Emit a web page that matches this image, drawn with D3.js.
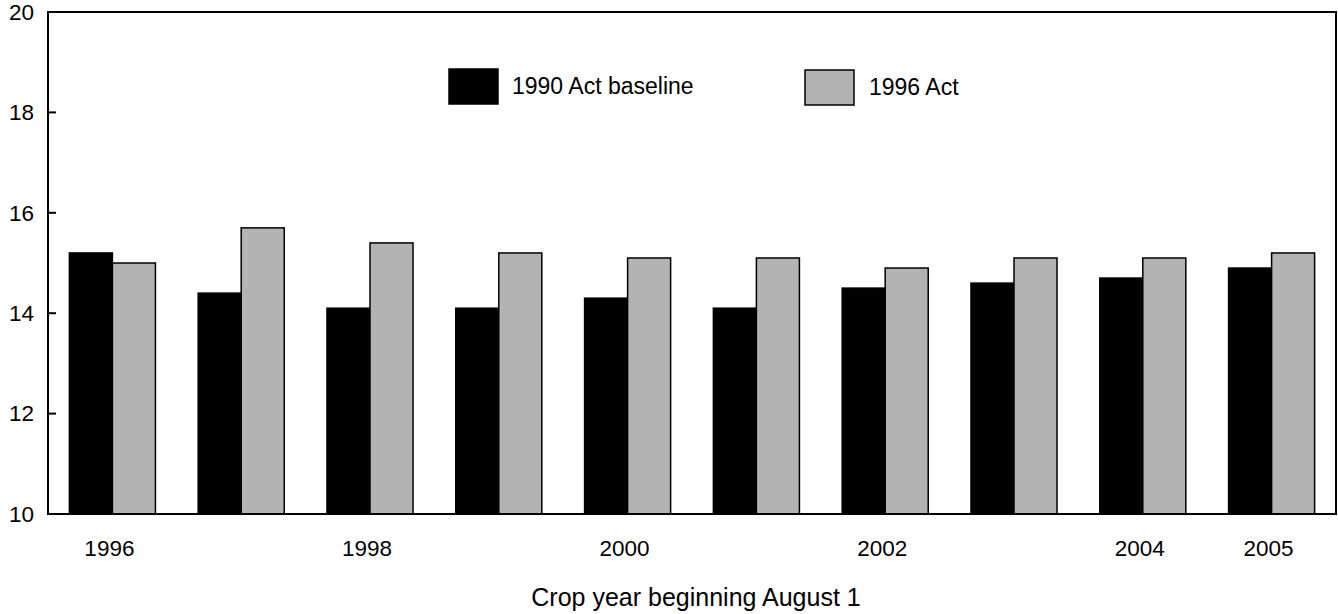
<!DOCTYPE html>
<html>
<head>
<meta charset="utf-8">
<script src="https://cdn.jsdelivr.net/npm/d3@7"></script>
<style>
  html, body { margin: 0; padding: 0; background: #fff; }
  text { font-family: "Liberation Sans", Arial, sans-serif; fill: #000; }
</style>
</head>
<body>
<svg id="chart" width="1338" height="614"></svg>
<script>
const years = ["1996","1997","1998","1999","2000","2001","2002","2003","2004","2005"];
const baseline1990 = [15.2, 14.4, 14.1, 14.1, 14.3, 14.1, 14.5, 14.6, 14.7, 14.9];
const act1996 = [15.0, 15.7, 15.4, 15.2, 15.1, 15.1, 14.9, 15.1, 15.1, 15.2];
const seriesNames = ["1990 Act baseline", "1996 Act"];
const seriesColors = ["#000000", "#b3b3b3"];
const yTicks = [10, 12, 14, 16, 18, 20];
const labeledYears = ["1996","1998","2000","2002","2004","2005"];
const xTitle = "Crop year beginning August 1";

(function () {
const svg = d3.select("#chart");
const mLeft = 48, mRight = 1336, mTop = 12, mBottom = 514;

const x0 = d3.scaleBand().domain(years).range([mLeft, mRight])
  .paddingInner(0.332).paddingOuter(0.166);
const x1 = d3.scaleBand().domain([0, 1]).range([0, x0.bandwidth()]);
const y = d3.scaleLinear().domain([10, 20]).range([mBottom, mTop]);

const series = [baseline1990, act1996];
const data = years.map((yr, i) => ({ yr, vals: series.map(s => s[i]) }));

// bars
const g = svg.append("g");
const groups = g.selectAll("g.grp").data(data).join("g")
  .attr("class", "grp")
  .attr("transform", d => `translate(${x0(d.yr)},0)`);
groups.selectAll("rect").data(d => d.vals.map((v, k) => ({ v, k }))).join("rect")
  .attr("x", d => x1(d.k))
  .attr("y", d => y(d.v))
  .attr("width", x1.bandwidth())
  .attr("height", d => y(10) - y(d.v))
  .attr("fill", d => seriesColors[d.k])
  .attr("stroke", "#000")
  .attr("stroke-width", 1.5);

// frame
svg.append("rect")
  .attr("x", mLeft).attr("y", mTop)
  .attr("width", mRight - mLeft).attr("height", mBottom - mTop)
  .attr("fill", "none").attr("stroke", "#000").attr("stroke-width", 2);

// y axis
const yAxis = d3.axisLeft(y).tickValues(yTicks).tickSize(0).tickPadding(14).tickFormat(d3.format("d"));
const ya = svg.append("g").attr("transform", `translate(${mLeft},0)`).call(yAxis);
ya.select(".domain").remove();
ya.selectAll("text").style("font-size", "22.5px").attr("fill", "#000");
// inward tick marks
svg.append("g").selectAll("line").data(yTicks.filter(t => t > 10 && t < 20)).join("line")
  .attr("x1", mLeft).attr("x2", mLeft + 8)
  .attr("y1", d => y(d)).attr("y2", d => y(d))
  .attr("stroke", "#000").attr("stroke-width", 2);

// x axis
const xAxis = d3.axisBottom(x0).tickSize(0).tickPadding(26)
  .tickFormat(d => labeledYears.includes(d) ? d : "");
const xa = svg.append("g").attr("transform", `translate(0,${mBottom})`).call(xAxis);
xa.select(".domain").remove();
xa.selectAll(".tick").attr("transform", d => `translate(${x0(d) + x0.bandwidth() / 2 - 3},0)`);
xa.selectAll("text").style("font-size", "22.5px").attr("fill", "#000");

// x title
svg.append("text")
  .attr("x", 696).attr("y", 606)
  .attr("text-anchor", "middle")
  .style("font-size", "25px")
  .text(xTitle);

// legend
const legendPos = [{ x: 449, y: 69, tx: 512, ty: 93.5 }, { x: 805, y: 70, tx: 869, ty: 95 }];
const lg = svg.append("g");
seriesNames.forEach((name, i) => {
  lg.append("rect")
    .attr("x", legendPos[i].x).attr("y", legendPos[i].y)
    .attr("width", 49).attr("height", 35)
    .attr("fill", seriesColors[i]).attr("stroke", "#000").attr("stroke-width", 1.5);
  lg.append("text")
    .attr("x", legendPos[i].tx).attr("y", legendPos[i].ty)
    .style("font-size", "23px")
    .text(name);
});
})();
</script>
</body>
</html>
